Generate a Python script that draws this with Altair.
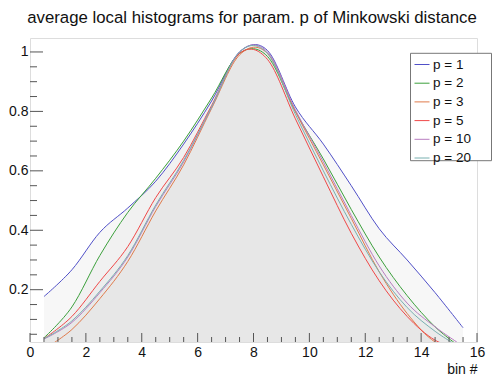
import altair as alt
import pandas as pd

# ---------------- data ----------------
bins = [0.5, 1.5, 2.5, 3.5, 4.5, 5.5, 6.5, 7.5, 8.5, 9.5, 10.5, 11.5, 12.5, 13.5, 14.5, 15.5]
series_names = ["p = 1", "p = 2", "p = 3", "p = 5", "p = 10", "p = 20"]
series_colors = ["#5050c8", "#3ca03c", "#e07a4a", "#f04848", "#b87cc0", "#78b0b0"]

p1 = [0.177, 0.267, 0.393, 0.475, 0.565, 0.690, 0.835, 1.000, 1.005, 0.815, 0.690, 0.550, 0.405, 0.300, 0.190, 0.072]
p2 = [0.038, 0.142, 0.315, 0.460, 0.575, 0.700, 0.845, 0.995, 0.985, 0.800, 0.640, 0.470, 0.310, 0.180, 0.075, 0.000]
p3 = [0.000, 0.066, 0.170, 0.295, 0.465, 0.620, 0.810, 0.990, 0.995, 0.800, 0.620, 0.440, 0.260, 0.120, 0.024, 0.000]
p5 = [0.035, 0.110, 0.228, 0.345, 0.510, 0.645, 0.820, 0.995, 0.975, 0.775, 0.580, 0.390, 0.230, 0.110, 0.030, 0.000]
p10 = [0.034, 0.090, 0.190, 0.310, 0.480, 0.630, 0.815, 1.000, 1.000, 0.805, 0.630, 0.450, 0.280, 0.155, 0.075, 0.010]
p20 = [0.035, 0.095, 0.195, 0.315, 0.485, 0.635, 0.815, 1.000, 0.995, 0.790, 0.600, 0.420, 0.260, 0.140, 0.060, 0.000]

x_major = [0, 2, 4, 6, 8, 10, 12, 14, 16]
x_minor = [0.5, 1, 1.5, 2.5, 3, 3.5, 4.5, 5, 5.5, 6.5, 7, 7.5, 8.5, 9, 9.5,
           10.5, 11, 11.5, 12.5, 13, 13.5, 14.5, 15, 15.5]
y_major = [0.2, 0.4, 0.6, 0.8, 1.0]
y_minor = [0.05, 0.1, 0.15, 0.25, 0.3, 0.35, 0.45, 0.5, 0.55, 0.65, 0.7, 0.75,
           0.85, 0.9, 0.95]

title_text = "average local histograms for param. p of Minkowski distance"
x_title = "bin #"

# ---------------- build table ----------------
all_vals = [p1, p2, p3, p5, p10, p20]
rows = []
for name, vals in zip(series_names, all_vals):
    for b, v in zip(bins, vals):
        rows.append({"bin": b, "value": v, "p": name})
df = pd.DataFrame(rows)

W, H = 447, 304
FONT = "Liberation Sans"

xscale = alt.Scale(domain=[0, 16], nice=False, zero=False)
yscale = alt.Scale(domain=[0.024, 1.047], nice=False, zero=False)

x_axis = alt.Axis(values=x_major, format="d", ticks=False, domain=False, grid=False,
                  labelFont=FONT, labelFontSize=14, labelColor="#111", labelPadding=3,
                  title=x_title, titleFont=FONT, titleFontSize=14, titleFontWeight="normal",
                  titleColor="#111", titleAnchor="end", titleAlign="right",
                  titleBaseline="alphabetic", titleX=W, titleY=31, labelFlush=False)
y_axis = alt.Axis(values=y_major, format="~g", ticks=False, domain=False, grid=False,
                  labelFont=FONT, labelFontSize=14, labelColor="#111", labelPadding=2,
                  title=None, labelFlush=False)

base = alt.Chart(df)

areas = base.mark_area(interpolate="cardinal", color="#e4e4e4", opacity=0.3, clip=True).encode(
    x=alt.X("bin:Q", scale=xscale, axis=x_axis),
    y=alt.Y("value:Q", scale=yscale, axis=y_axis, stack=None),
    y2=alt.datum(0),
    detail="p:N",
)

lines = base.mark_line(interpolate="cardinal", strokeWidth=1, clip=True).encode(
    x=alt.X("bin:Q", scale=xscale),
    y=alt.Y("value:Q", scale=yscale, stack=None),
    color=alt.Color("p:N", scale=alt.Scale(domain=series_names, range=series_colors),
                    sort=series_names,
                    legend=alt.Legend(title=None, orient="none", legendX=384, legendY=18.5,
                                      symbolType="stroke", symbolSize=225, symbolStrokeWidth=1,
                                      labelFont=FONT, labelFontSize=13.5, labelColor="#111",
                                      labelOffset=3, rowPadding=3.7, padding=0)),
)

legend_box = alt.Chart(pd.DataFrame({"a": [0]})).mark_rect(
    fill="white", stroke="#777", strokeWidth=1).encode(
    x=alt.value(380.5), x2=alt.value(461.5), y=alt.value(15.3), y2=alt.value(122.7))

title_mark = alt.Chart(pd.DataFrame({"t": [title_text]})).mark_text(
    font=FONT, fontSize=16.8, color="#111", align="center", baseline="alphabetic").encode(
    text="t:N", x=alt.value(222), y=alt.value(-15.5))

tick_color = "#555"
yt_major = alt.Chart(pd.DataFrame({"v": y_major})).mark_rule(color=tick_color).encode(
    y=alt.Y("v:Q", scale=yscale), x=alt.value(0), x2=alt.value(13))
yt_minor = alt.Chart(pd.DataFrame({"v": y_minor})).mark_rule(color=tick_color).encode(
    y=alt.Y("v:Q", scale=yscale), x=alt.value(0), x2=alt.value(7))
xt_major = alt.Chart(pd.DataFrame({"v": x_major})).mark_rule(color=tick_color).encode(
    x=alt.X("v:Q", scale=xscale), y=alt.value(H), y2=alt.value(H - 9))
xt_minor = alt.Chart(pd.DataFrame({"v": x_minor})).mark_rule(color=tick_color).encode(
    x=alt.X("v:Q", scale=xscale), y=alt.value(H), y2=alt.value(H - 5))

chart = alt.layer(areas, lines, legend_box, title_mark,
                  yt_major, yt_minor, xt_major, xt_minor).properties(
    width=W, height=H,
    autosize=alt.AutoSizeParams(type="none"),
    padding={"left": 22, "top": 30, "right": 15, "bottom": 36},
).configure_view(stroke="#777", strokeWidth=1).configure(background="white")

chart.save("out.html", embed_options={"renderer": "svg", "actions": False})
